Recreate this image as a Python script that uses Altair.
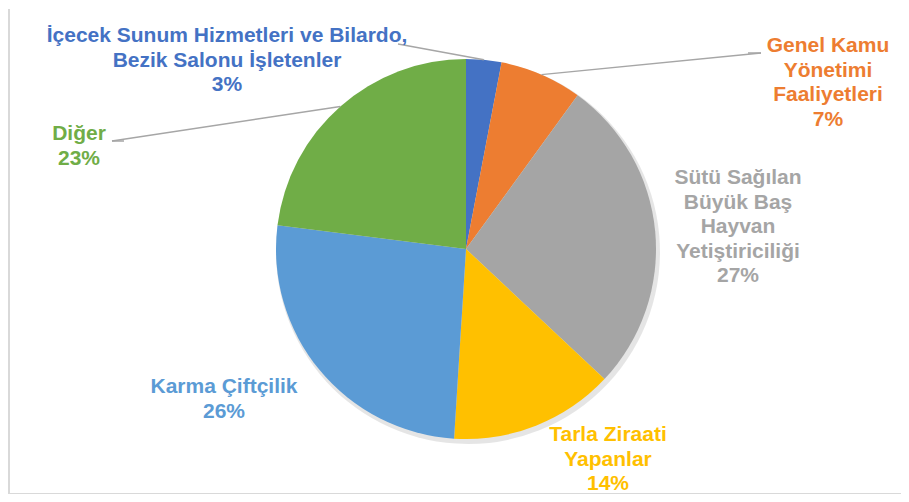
import math
import altair as alt
import pandas as pd

# ---- data -------------------------------------------------------------
categories = [
    "İçecek Sunum Hizmetleri ve Bilardo,\nBezik Salonu İşletenler",
    "Genel Kamu\nYönetimi\nFaaliyetleri",
    "Sütü Sağılan\nBüyük Baş\nHayvan\nYetiştiriciliği",
    "Tarla Ziraati\nYapanlar",
    "Karma Çiftçilik",
    "Diğer",
]
shares = [3, 7, 27, 14, 26, 23]
colors = ["#4472C4", "#ED7D31", "#A5A5A5", "#FFC000", "#5B9BD5", "#70AD47"]

# ---- layout (pixels inside the chart) -----------------------------------
W, H = 893, 486
CX, CY, R = 457, 240, 190
# (center x, first-line y) of each label
label_pos = [(218, 27), (819, 37), (729, 169), (599, 426), (215, 378), (70, 125)]
# label-side end of leader lines (None = no leader); elbow point optional
leader_ends = [[(389, 35)], [(752, 44), (739, 44)], None, None, None, [(103, 132), (115, 132)]]

total = sum(shares)
df = pd.DataFrame({
    "idx": list(range(len(categories))),
    "cat": categories,
    "share": shares,
})
df["label"] = [f"{c}\n{round(s / total * 100)}%" for c, s in zip(categories, shares)]
df["lx"] = [p[0] for p in label_pos]
df["ly"] = [p[1] for p in label_pos]

# leader line segments: from slice mid-angle on the rim to label side
segs = []
cum = 0
for i, s in enumerate(shares):
    mid = (cum + s / 2) / total * 2 * math.pi
    cum += s
    ends = leader_ends[i]
    if not ends:
        continue
    px = CX + R * math.sin(mid)
    py = CY - R * math.cos(mid)
    pts = [(px, py)] + ends
    for a, b in zip(pts[:-1], pts[1:]):
        segs.append({"x": a[0], "y": a[1], "x2": b[0], "y2": b[1]})
seg_df = pd.DataFrame(segs)

color_scale = alt.Scale(domain=categories, range=colors)

base = alt.Chart(df)

shadow = base.mark_arc(outerRadius=R + 2, color="#000000", opacity=0.10).encode(
    theta=alt.Theta("share:Q", stack=True),
    order=alt.Order("idx:Q"),
    x=alt.value(CX + 2),
    y=alt.value(CY + 3),
)

pie = base.mark_arc(outerRadius=R).encode(
    theta=alt.Theta("share:Q", stack=True),
    color=alt.Color("cat:N", scale=color_scale, legend=None),
    order=alt.Order("idx:Q"),
    x=alt.value(CX),
    y=alt.value(CY),
)

leaders = alt.Chart(seg_df).mark_rule(color="#A6A6A6", strokeWidth=1.5).encode(
    x=alt.X("x:Q", scale=None),
    y=alt.Y("y:Q", scale=None),
    x2="x2:Q",
    y2="y2:Q",
)

labels = base.mark_text(
    font="Liberation Sans",
    fontWeight="bold",
    fontSize=21,
    lineHeight=24.5,
    align="center",
    baseline="middle",
    lineBreak="\n",
).encode(
    x=alt.X("lx:Q", scale=None),
    y=alt.Y("ly:Q", scale=None),
    text="label:N",
    color=alt.Color("cat:N", scale=color_scale, legend=None),
)

border = alt.Chart(pd.DataFrame({"k": [0]})).mark_rule(color="#D9D9D9", strokeWidth=2).encode(
    x=alt.value(0), y=alt.value(0), y2=alt.value(H - 1)
)
border_b = alt.Chart(pd.DataFrame({"k": [0]})).mark_rule(color="#D9D9D9", strokeWidth=2).encode(
    x=alt.value(0), x2=alt.value(W), y=alt.value(H - 1)
)

chart = (
    alt.layer(shadow, pie, leaders, labels, border, border_b)
    .properties(
        width=W,
        height=H,
        padding=0,
        background="white",
        autosize=alt.AutoSizeParams(type="fit", contains="padding"),
    )
    .configure_view(stroke=None)
)

chart.save("out.html", embed_options={"renderer": "svg", "actions": False})
